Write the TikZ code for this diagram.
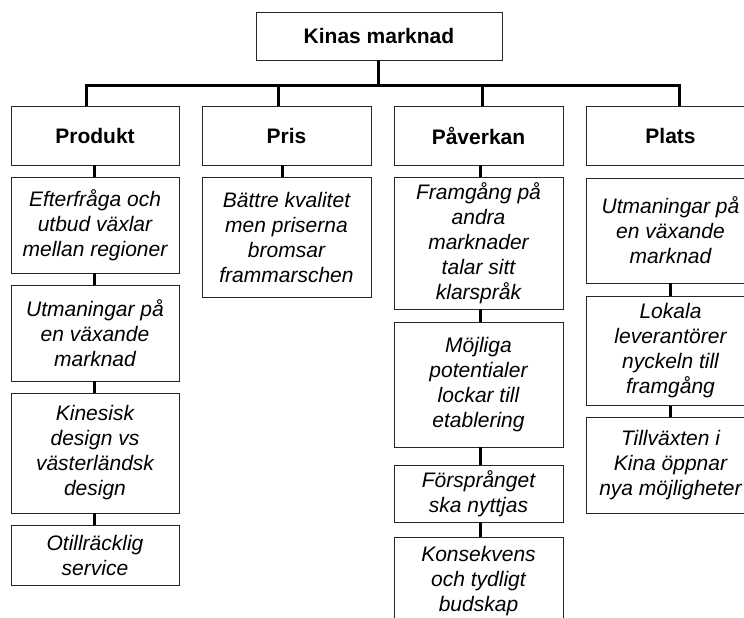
\documentclass[tikz,border=0pt]{standalone}
\usepackage{fontspec}
\setmainfont{Liberation Sans}
\begin{document}
\begin{tikzpicture}[x=1pt,y=-1pt,
  box/.style={draw=black!85, line width=0.9pt, fill=white, align=center, inner sep=0pt,
    font=\fontsize{21}{25}\selectfont},
  head/.style={box, font=\fontsize{21}{25}\selectfont\bfseries},
  item/.style={box, font=\fontsize{21}{25}\selectfont\itshape},
  conn/.style={line width=3pt, black}]
\useasboundingbox (0,0) rectangle (744,618);
\clip (0,0) rectangle (744,618);
% top
\node[head, minimum width=246, minimum height=48] (top) at (379,36) {Kinas marknad};
% level 1
\node[head, minimum width=168, minimum height=59] (prod) at (95,135.5) {Produkt};
\node[head, minimum width=169, minimum height=59] (pris) at (286.5,135.5) {Pris};
\node[head, minimum width=169, minimum height=59] (pav) at (478.5,135.5) {Påverkan};
\node[head, minimum width=168, minimum height=59] (plats) at (670.5,135.5) {Plats};
% Produkt column
\node[item, minimum width=168, minimum height=96] (p1) at (95,225) {Efterfråga och\\utbud växlar\\mellan regioner};
\node[item, minimum width=168, minimum height=96] (p2) at (95,333) {Utmaningar på\\en växande\\marknad};
\node[item, minimum width=168, minimum height=120] (p3) at (95,453) {Kinesisk\\design vs\\västerländsk\\design};
\node[item, minimum width=168, minimum height=60] (p4) at (95,555) {Otillräcklig\\service};
% Pris column
\node[item, minimum width=169, minimum height=120] (r1) at (286.5,237) {Bättre kvalitet\\men priserna\\bromsar\\frammarschen};
% Påverkan column
\node[item, minimum width=169, minimum height=132] (v1) at (478.5,243) {Framgång på\\andra\\marknader\\talar sitt\\klarspråk};
\node[item, minimum width=169, minimum height=125] (v2) at (478.5,384.5) {Möjliga\\potentialer\\lockar till\\etablering};
\node[item, minimum width=169, minimum height=57] (v3) at (478.5,493.5) {Försprånget\\ska nyttjas};
\node[item, minimum width=169, minimum height=88] (v4) at (478.5,581) {Konsekvens\\och tydligt\\budskap};
% Plats column
\node[item, minimum width=168, minimum height=105] (l1) at (670.5,230.5) {Utmaningar på\\en växande\\marknad};
\node[item, minimum width=168, minimum height=109] (l2) at (670.5,351) {Lokala\\leverantörer\\nyckeln till\\framgång};
\node[item, minimum width=168, minimum height=96] (l3) at (670.5,465) {Tillväxten i\\Kina öppnar\\nya möjligheter};
% bus
\coordinate (bus) at (0,85);
\coordinate (b1) at (86,85);
\coordinate (b2) at (278,85);
\coordinate (b3) at (482,85);
\coordinate (b4) at (679,85);
\draw[conn] (top.south -| 378,0) -- (bus -| 378,0);
\draw[conn, line cap=rect] (b1) -- (b4);
\draw[conn] (b1) -- (b1 |- prod.north);
\draw[conn] (b2) -- (b2 |- pris.north);
\draw[conn] (b3) -- (b3 |- pav.north);
\draw[conn] (b4) -- (b4 |- plats.north);
% column connectors
\coordinate (cp) at (94,0);
\coordinate (cr) at (282,0);
\coordinate (cv) at (480,0);
\coordinate (cl) at (670,0);
\draw[conn] (cp |- prod.south) -- (cp |- p1.north);
\draw[conn] (cp |- p1.south) -- (cp |- p2.north);
\draw[conn] (cp |- p2.south) -- (cp |- p3.north);
\draw[conn] (cp |- p3.south) -- (cp |- p4.north);
\draw[conn] (cr |- pris.south) -- (cr |- r1.north);
\draw[conn] (cv |- pav.south) -- (cv |- v1.north);
\draw[conn] (cv |- v1.south) -- (cv |- v2.north);
\draw[conn] (cv |- v2.south) -- (cv |- v3.north);
\draw[conn] (cv |- v3.south) -- (cv |- v4.north);
\draw[conn] (cl |- l1.south) -- (cl |- l2.north);
\draw[conn] (cl |- l2.south) -- (cl |- l3.north);
\end{tikzpicture}
\end{document}
